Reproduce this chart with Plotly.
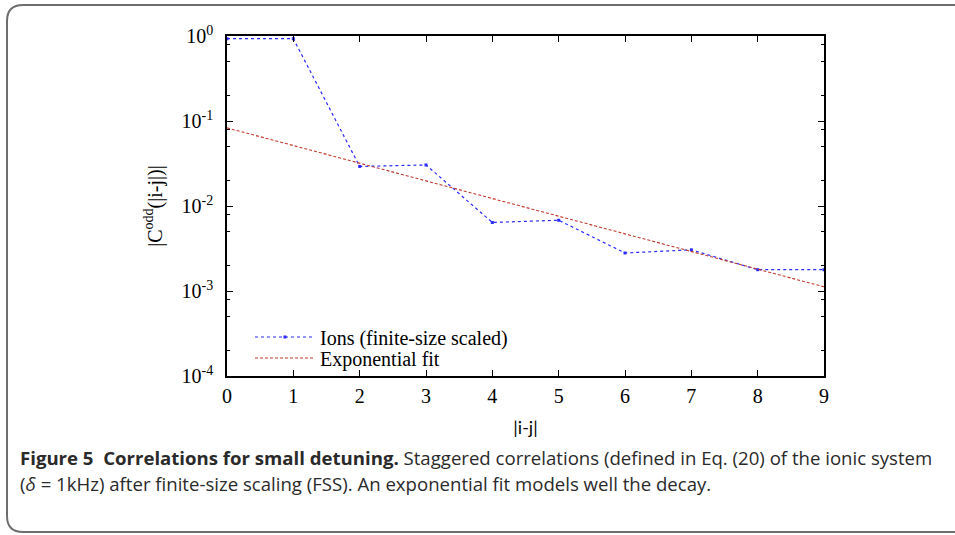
import plotly.graph_objects as go

# Data
dist = [0, 1, 2, 3, 4, 5, 6, 7, 8, 9]
ions_fss = [0.93, 0.93, 0.0292, 0.0304, 0.0064, 0.0068, 0.0028, 0.00305, 0.00178, 0.00178]
fit_x = [0, 9]
fit_y = [0.083, 0.00112]

y_major = [1e-4, 1e-3, 1e-2, 1e-1, 1]
y_major_text = ["10<sup>-4</sup>", "10<sup>-3</sup>", "10<sup>-2</sup>", "10<sup>-1</sup>", "10<sup>0</sup>"]
y_minor = [m * 10.0 ** e for e in range(-4, 0) for m in (2, 5, 8)]

W, H = 955, 535
L, R, T, B = 227, 131, 36, 159
PW, PH = W - L - R, H - T - B


def px(xp):
    return (xp - L) / PW


def py(yp):
    return 1 - (yp - T) / PH


fig = go.Figure()
fig.add_trace(go.Scatter(
    x=dist, y=ions_fss, mode="lines+markers", name="Ions (finite-size scaled)",
    line=dict(color="#2b2bff", width=1.2, dash="dot"),
    marker=dict(symbol="square", size=3, color="#2b2bff"),
    legend="legend",
))
fig.add_trace(go.Scatter(
    x=fit_x, y=fit_y, mode="lines", name="Exponential fit",
    line=dict(color="#c0392b", width=1.1, dash="3px,2px"),
    legend="legend2",
))

serif = "Liberation Serif, Times New Roman, serif"
axis_common = dict(
    showline=True, linecolor="black", linewidth=1.5, mirror="allticks",
    ticks="inside", tickcolor="black", tickwidth=1, showgrid=False, zeroline=False,
    tickfont=dict(family=serif, size=20, color="black"),
)

fig.update_xaxes(
    range=[0, 9], tickvals=dist, ticklen=6, ticklabelstandoff=1,
    title=dict(text="|i-j|", font=dict(family="Lato, Open Sans, sans-serif", size=18, color="black"), standoff=16),
    **axis_common,
)
fig.update_yaxes(
    type="log", range=[-4, 0], tickvals=y_major, ticktext=y_major_text, ticklen=6,
    ticklabelstandoff=8,
    minor=dict(tickvals=y_minor, ticks="inside", ticklen=3, tickcolor="black", tickwidth=1),
    title=dict(text="|C<sup>odd</sup>(|i-j|)|", font=dict(family=serif, size=20, color="black"), standoff=14),
    **axis_common,
)

# Rounded frame around figure + caption
x0, x1, y0, y1, r = 7, 965, 5, 532, 16
path = (f"M {px(x1)},{py(y0)} L {px(x0 + r)},{py(y0)} Q {px(x0)},{py(y0)} {px(x0)},{py(y0 + r)} "
        f"L {px(x0)},{py(y1 - r)} Q {px(x0)},{py(y1)} {px(x0 + r)},{py(y1)} L {px(x1)},{py(y1)}")
fig.add_shape(type="path", path=path, xref="paper", yref="paper",
              line=dict(color="#6e6e6e", width=2))

cap_font = dict(family="Open Sans, sans-serif", size=18.6, color="#2a2a2a")
fig.add_annotation(
    x=px(18), y=py(457), xref="paper", yref="paper", xanchor="left", yanchor="middle",
    showarrow=False, font=cap_font,
    text="<b>Figure 5  Correlations for small detuning.</b> Staggered correlations (defined in Eq. (20) of the ionic system",
)
fig.add_annotation(
    x=px(18), y=py(483), xref="paper", yref="paper", xanchor="left", yanchor="middle",
    showarrow=False, font=cap_font,
    text="(<i>δ</i> = 1kHz) after finite-size scaling (FSS). An exponential fit models well the decay.",
)

leg_common = dict(xanchor="left", yanchor="middle", bgcolor="rgba(0,0,0,0)",
                  font=dict(family=serif, size=20, color="black"), itemwidth=60)
fig.update_layout(
    width=W, height=H, margin=dict(l=L, r=R, t=T, b=B),
    paper_bgcolor="white", plot_bgcolor="white",
    legend=dict(x=px(250), y=py(337), **leg_common),
    legend2=dict(x=px(250), y=py(358), **leg_common),
    showlegend=True,
)

fig.write_html("out.html")
